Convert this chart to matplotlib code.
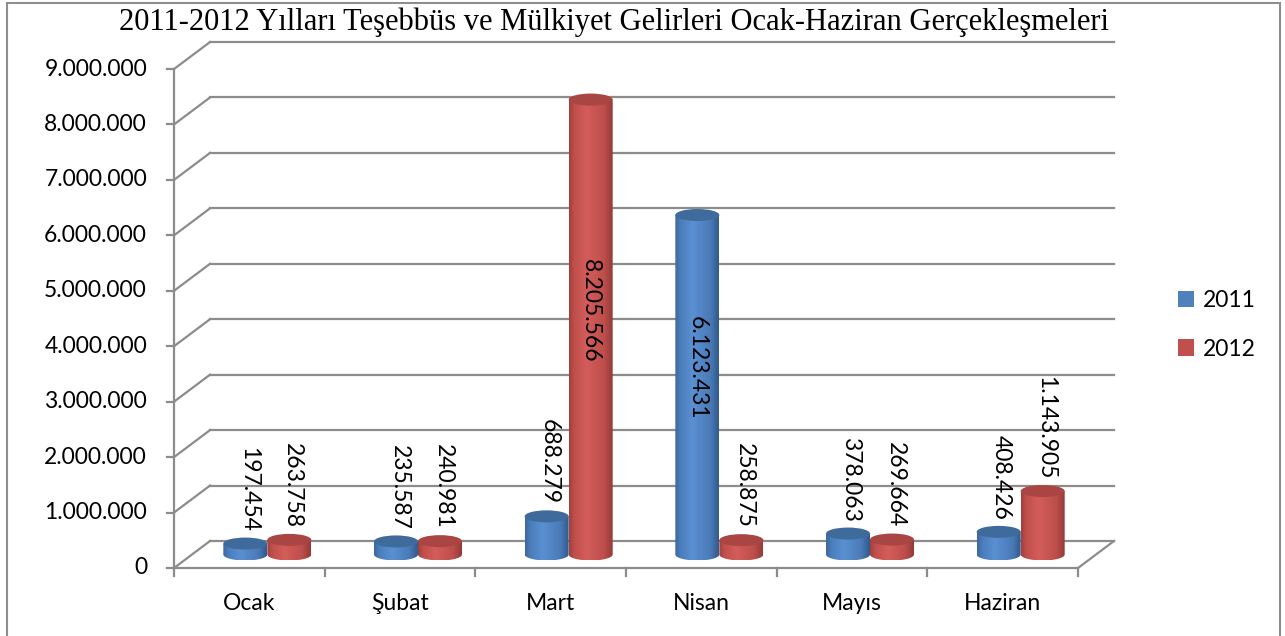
import numpy as np
import matplotlib
matplotlib.use("Agg")
import matplotlib.pyplot as plt
from matplotlib.patches import Ellipse, PathPatch, Rectangle, Patch
from matplotlib.path import Path

# data
months = ['Ocak', 'Şubat', 'Mart', 'Nisan', 'Mayıs', 'Haziran']
v2011 = [197454, 235587, 688279, 6123431, 378063, 408426]
v2012 = [263758, 240981, 8205566, 258875, 269664, 1143905]
yticks = list(range(0, 10))  # millions
title = '2011-2012 Yılları Teşebbüs ve Mülkiyet Gelirleri Ocak-Haziran Gerçekleşmeleri'

plt.rcParams['font.family'] = ['Lato', 'DejaVu Sans']
FS = 16.5
GRID = '#8c8c8c'

W, H = 1285, 636
fig = plt.figure(figsize=(W / 100, H / 100), dpi=100)
ax = fig.add_axes([0, 0, 1, 1])
# 1 category = 150.67 px, 1 million = 55.44 px, origin at pixel (174, 568)
px_x, px_y = 150.67, 55.44
ax.set_xlim(-174 / px_x, (W - 174) / px_x)
ax.set_ylim(-(H - 568) / px_y, 568 / px_y)
ax.axis('off')

DX, DY = 36 / px_x, 27 / px_y   # depth of the 3d box
n = len(months)
top = yticks[-1]

# back wall grid + left connectors
for t in yticks:
    ax.plot([DX, n + DX], [t + DY, t + DY], color=GRID, lw=1.6, zorder=1)
    ax.plot([0, DX], [t, t + DY], color=GRID, lw=1.6, zorder=1)
    ax.plot([-7 / px_x, 0], [t, t], color=GRID, lw=1.6, zorder=1)
    ax.text(-27 / px_x, t, f"{t * 1000000:,}".replace(',', '.'),
            ha='right', va='center', fontsize=FS)
ax.plot([0, 0], [0, top], color=GRID, lw=1.6, zorder=1)

# floor
ax.plot([0, n], [0, 0], color=GRID, lw=1.6, zorder=1)
ax.plot([n, n + DX], [0, DY], color=GRID, lw=1.6, zorder=1)
for i in range(n + 1):
    ax.plot([i, i], [0, -8 / px_y], color=GRID, lw=1.6, zorder=1)
for i, m in enumerate(months):
    ax.text(i + 0.5, -35 / px_y, m, ha='center', va='center', fontsize=FS)

rx, ry = 22 / px_x, 6 / px_y
base = DY / 2


def shade(stops):
    cols = np.array([matplotlib.colors.to_rgb(c) for c in stops])
    pos = [0, 0.12, 0.4, 0.8, 1]
    t = np.linspace(0, 1, 200)
    g = np.stack([np.interp(t, pos, cols[:, k]) for k in range(3)], axis=1)
    return g[np.newaxis, :, :]


blue = shade(['#3b679c', '#4a7dba', '#5a90d2', '#4a7bb8', '#325a8c'])
red = shade(['#9e3f3c', '#c04f4c', '#d35d5a', '#be4e4b', '#923a37'])
series = [(v2011, -1, blue, '#3f6a9c', '#4f81bd', '2011'),
          (v2012, 1, red, '#a94542', '#c0504d', '2012')]


def cylinder(cx, h, grad, topc, z):
    y0, y1 = base, base + h
    a = np.linspace(np.pi, 2 * np.pi, 40)
    verts = [(cx - rx, y1)]
    verts += list(zip(cx + rx * np.cos(a), y0 + ry * np.sin(a)))
    verts += [(cx + rx, y1), (cx - rx, y1)]
    path = Path(verts, closed=True)
    body = PathPatch(path, facecolor='none', edgecolor='none', zorder=z)
    ax.add_patch(body)
    im = ax.imshow(grad, extent=(cx - rx, cx + rx, y0 - ry, y1), aspect='auto',
                   interpolation='bilinear', zorder=z)
    im.set_clip_path(body)
    ax.add_patch(Ellipse((cx, y1), 2 * rx, 2 * ry, facecolor=topc,
                         edgecolor='none', zorder=z + 0.1))


for i in range(n):
    for vals, side, grad, topc, _, _ in series:
        v = vals[i] / 1e6
        cx = i + 0.5 + side * rx + DX / 2
        cylinder(cx, v, grad, topc, 3 + i * 0.01)
        lab = f"{vals[i]:,}".replace(',', '.')
        if v > 5:
            ax.text(cx, base + v / 2 + 0.3, lab, rotation=270, ha='center',
                    va='center', fontsize=FS, zorder=5)
        else:
            ax.text(cx + 3 / px_x, base + v + ry + 6 / px_y, lab, rotation=270,
                    ha='center', va='bottom', fontsize=FS, zorder=5)

ax.set_xlim(-174 / px_x, (W - 174) / px_x)
ax.set_ylim(-(H - 568) / px_y, 568 / px_y)

handles = [Patch(facecolor=s[4], label=s[5]) for s in series]
fig.legend(handles=handles, loc='upper left', bbox_to_anchor=(1178 / W, 1 - 290 / H),
           frameon=False, fontsize=FS, handlelength=0.7, handleheight=0.7,
           handletextpad=0.4, labelspacing=1.2, borderpad=0, borderaxespad=0)

fig.text(614 / W, 1 - 22 / H, title, ha='center', va='center',
         fontsize=22, family='Liberation Serif')

fig.add_artist(Rectangle((7 / W, -0.02), (1280 - 7) / W, 1 - 3 / H + 0.02,
                         transform=fig.transFigure, fill=False, edgecolor='#8e8e8e', lw=1.5))

fig.savefig('out.png', dpi=100, facecolor='white')
